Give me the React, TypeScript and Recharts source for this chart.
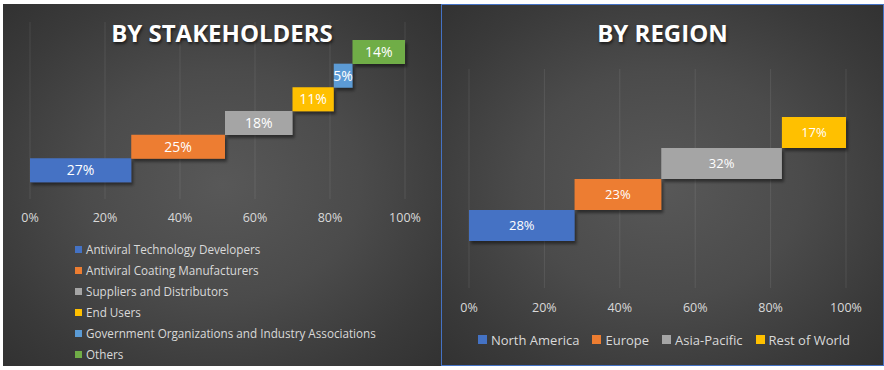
import React from 'react';
import { BarChart, Bar, XAxis, YAxis, CartesianGrid, Legend, LabelList, Rectangle } from 'recharts';

const stakeholderNames = [
  'Antiviral Technology Developers',
  'Antiviral Coating Manufacturers',
  'Suppliers and Distributors',
  'End Users',
  'Government Organizations and Industry Associations',
  'Others',
];
const stakeholderShares = [27, 25, 18, 11, 5, 14];
const stakeholderColors = ['#4472C4', '#ED7D31', '#A5A5A5', '#FFC000', '#5B9BD5', '#70AD47'];

const regionNames = ['North America', 'Europe', 'Asia-Pacific', 'Rest of World'];
const regionShares = [28, 23, 32, 17];
const regionColors = ['#4472C4', '#ED7D31', '#A5A5A5', '#FFC000'];

const percentTicks = [0, 20, 40, 60, 80, 100];

function buildRows(names: string[], shares: number[]) {
  let cum = 0;
  return names.map((n, i) => {
    const row: any = { name: n, base: cum };
    row['s' + i] = shares[i];
    cum += shares[i];
    return row;
  });
}

const FONT = "'Open Sans', sans-serif";

const bgGradient =
  'radial-gradient(ellipse 70% 70% at 50% 50%, #585858 0%, #4b4b4b 45%, #3a3a3a 80%, #323232 100%)';

function WaterfallPanel(props: {
  names: string[];
  shares: number[];
  colors: string[];
  id: string;
  width: number;
  height: number;
  margin: any;
  padTop: number;
  padBottom: number;
  labelSize: number;
  tickMargin: number;
  legendProps: any;
}) {
  const rows = buildRows(props.names, props.shares);
  const fid = 'shadow-' + props.id;
  const legendText = (v: any) => <span style={{ color: '#d9d9d9' }}>{v}</span>;
  return (
    <BarChart
      width={props.width}
      height={props.height}
      data={rows}
      layout="vertical"
      margin={props.margin}
      barCategoryGap={0}
      barGap={0}
      style={{ fontFamily: FONT }}
    >
      <defs>
        <filter id={fid} x="-20%" y="-30%" width="140%" height="180%">
          <feDropShadow dx="2" dy="3" stdDeviation="1.5" floodColor="#000" floodOpacity="0.45" />
        </filter>
      </defs>
      <CartesianGrid horizontal={false} vertical={true} stroke="rgba(255,255,255,0.09)" strokeWidth={1} />
      <XAxis
        type="number"
        domain={[0, 100]}
        ticks={percentTicks}
        tickFormatter={(v: number) => v + '%'}
        axisLine={false}
        tickLine={false}
        tickMargin={props.tickMargin}
        height={30}
        tick={{ fill: '#d9d9d9', fontSize: 12.5, fontFamily: FONT }}
        interval={0}
      />
      <YAxis
        type="category"
        dataKey="name"
        hide
        reversed
        width={0}
        padding={{ top: props.padTop, bottom: props.padBottom }}
      />
      <Bar dataKey="base" stackId="w" fill="transparent" legendType="none" isAnimationActive={false} />
      {props.names.map((n, i) => (
        <Bar
          key={n}
          dataKey={'s' + i}
          name={n}
          stackId="w"
          fill={props.colors[i]}
          isAnimationActive={false}
          shape={(p: any) => <Rectangle {...p} filter={`url(#${fid})`} />}
        >
          <LabelList
            dataKey={'s' + i}
            position="center"
            fill="#ffffff"
            fontSize={props.labelSize}
            fontFamily={FONT}
            formatter={(v: any) => (v == null ? '' : v + '%')}
          />
        </Bar>
      ))}
      <Legend
        align="center"
        verticalAlign="middle"
        iconType="square"
        formatter={legendText}
        itemSorter={(item: any) => props.names.indexOf(item.value)}
        {...props.legendProps}
      />
    </BarChart>
  );
}

export default function App() {
  return (
    <div style={{ position: 'absolute', left: 0, top: 0, width: 884, height: 370, background: '#ffffff', fontFamily: FONT }}>
      <style>{`.region-panel .recharts-legend-item { margin-right: 13px !important; }
.stake-panel .recharts-legend-item { height: 21px !important; line-height: 21px !important; }
.recharts-legend-item-text { vertical-align: middle; }`}</style>
      {/* Left panel */}
      <div className="stake-panel" style={{ position: 'absolute', left: 3, top: 4, width: 438, height: 362, background: bgGradient, overflow: 'hidden' }}>
        <div style={{ position: 'absolute', left: 0, top: 0 }}>
          <WaterfallPanel
            id="stake"
            names={stakeholderNames}
            shares={stakeholderShares}
            colors={stakeholderColors}
            width={438}
            height={362}
            margin={{ top: 18, right: 36, left: 27, bottom: 137 }}
            padTop={18}
            padBottom={17}
            labelSize={14}
            tickMargin={8}
            legendProps={{
              layout: 'vertical',
              iconSize: 7,
              wrapperStyle: { top: 234, left: 72, width: 'auto', lineHeight: '21px', fontSize: 11.7, fontFamily: FONT },
            }}
          />
        </div>
        <div
          style={{
            position: 'absolute', left: 0, top: 17, width: 438, textAlign: 'center', color: '#ffffff',
            fontWeight: 700, fontSize: 24, lineHeight: '24px', fontFamily: FONT,
            textShadow: '1px 2px 3px rgba(0,0,0,0.6)', pointerEvents: 'none',
          }}
        >
          BY STAKEHOLDERS
        </div>
      </div>
      {/* Right panel */}
      <div
        className="region-panel"
        style={{
          position: 'absolute', left: 441, top: 4, width: 443, height: 362, background: bgGradient,
          boxShadow: 'inset 0 0 0 1px #4472C4', overflow: 'hidden',
        }}
      >
        <div style={{ position: 'absolute', left: 0, top: 0 }}>
          <WaterfallPanel
            id="region"
            names={regionNames}
            shares={regionShares}
            colors={regionColors}
            width={443}
            height={362}
            margin={{ top: 65, right: 38, left: 28, bottom: 48 }}
            padTop={48}
            padBottom={47}
            labelSize={13}
            tickMargin={9}
            legendProps={{
              layout: 'horizontal',
              iconSize: 9,
              wrapperStyle: { top: 324, left: 8, width: 443, lineHeight: '20px', fontSize: 13, fontFamily: FONT },
            }}
          />
        </div>
        <div
          style={{
            position: 'absolute', left: 0, top: 17, width: 443, textAlign: 'center', color: '#ffffff',
            fontWeight: 700, fontSize: 24, lineHeight: '24px', fontFamily: FONT,
            textShadow: '1px 2px 3px rgba(0,0,0,0.6)', pointerEvents: 'none',
          }}
        >
          BY REGION
        </div>
      </div>
    </div>
  );
}
